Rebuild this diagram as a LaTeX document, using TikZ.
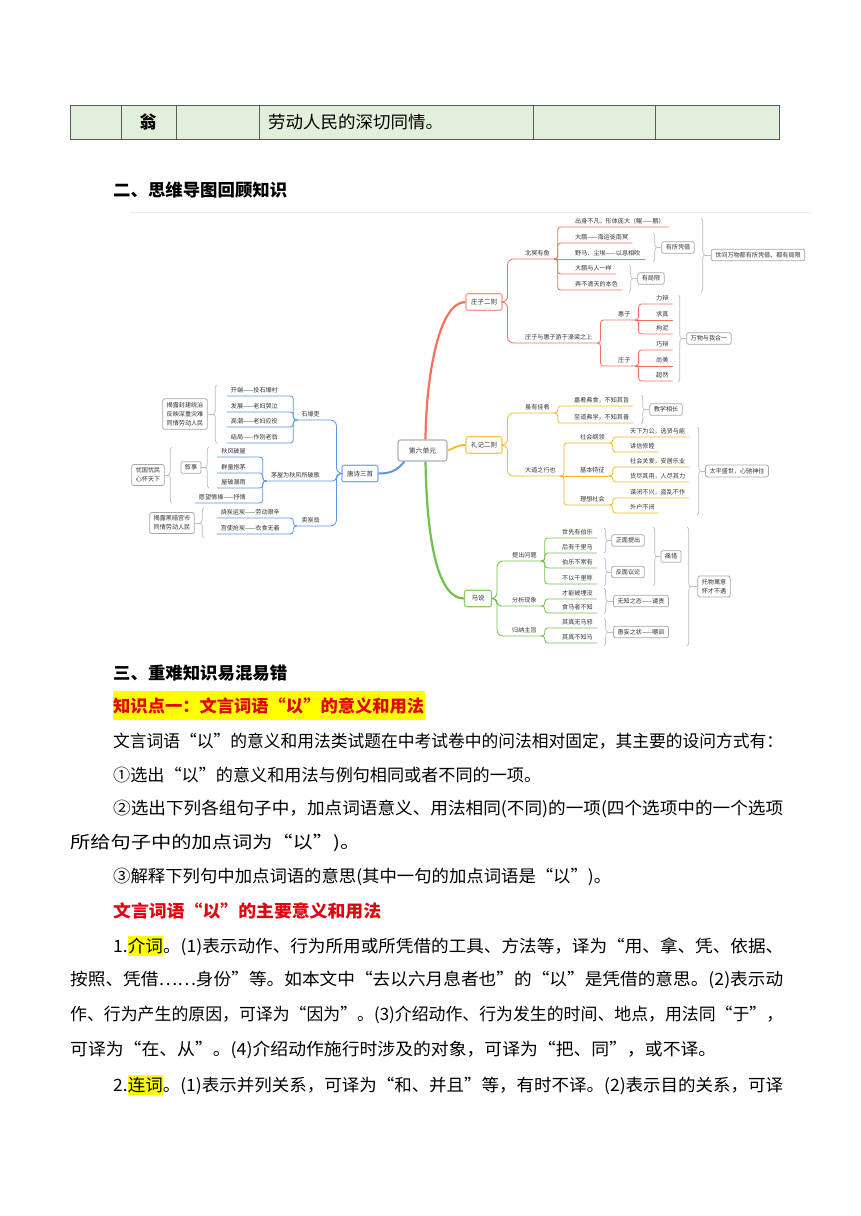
\documentclass[tikz,border=0pt]{standalone}
\usepackage{fontspec}
\setmainfont{Noto Sans CJK SC}
\usepackage{graphicx}
\usetikzlibrary{decorations.pathreplacing,calc}
\definecolor{cRed}{HTML}{F2725F}
\definecolor{cRedB}{HTML}{F49A8E}
\definecolor{cOr}{HTML}{F7B829}
\definecolor{cOrB}{HTML}{F8C654}
\definecolor{cGr}{HTML}{70C14A}
\definecolor{cGrB}{HTML}{8DCB6C}
\definecolor{cBl}{HTML}{5A98DF}
\definecolor{cBlB}{HTML}{7FAEE6}
\definecolor{rootB}{HTML}{A9B1BA}
\definecolor{boxG}{HTML}{A3A8AD}
\definecolor{brG}{HTML}{B9BDC1}
\definecolor{txt}{HTML}{333333}
\definecolor{tabF}{HTML}{E2EFDA}
\definecolor{tabL}{HTML}{5A5A5A}
\definecolor{hiY}{HTML}{FFFF00}
\definecolor{redT}{HTML}{E3000F}
\newcommand\fl[2]{\resizebox{#1pt}{\height}{#2}}
\newcommand\hl[1]{{\setlength{\fboxsep}{0pt}\colorbox{hiY}{\rule[-0.22em]{0pt}{1.15em}#1}}}
\newcommand\kidR[5]{\node[lbR] (#2) at (#3,#4) {#5};\draw[brl] (#1.south east) -- ++(4,0) |- (#2.south west) -- (#2.south east);}
\newcommand\kidRs[5]{\node[lbR] (#2) at (#3,#4) {#5};\draw[brs] (#1.south east) -- (#2.south east);}
\newcommand\kidL[5]{\node[lbL] (#2) at (#3,#4) {#5};\draw[brl] (#1.south west) -- ++(-4,0) |- (#2.south east) -- (#2.south west);}
\newcommand\topR[6]{\node[lbR] (#2) at (#3,#4) {#5};\draw[brl, rounded corners=#6] (#1.east) -- ++(5,0) |- (#2.south west) -- (#2.south east);}
\newcommand\topL[6]{\node[lbL] (#2) at (#3,#4) {#5};\draw[brl, rounded corners=#6] (#1.west) -- ++(-5,0) |- (#2.south east) -- (#2.south west);}
\newcommand\sumR[6]{\draw[brc] (#1,#2) -- (#1,#3);\node[sbox] (#4) at #5 {#6};\coordinate (#4t) at ({#1+3.5},0);\draw[brG, line width=0.7pt] (#4.west) -- (#4.west -| #4t);}
\newcommand\sumL[6]{\draw[brc] (#1,#3) -- (#1,#2);\node[sbox] (#4) at #5 {#6};\coordinate (#4t) at ({#1-3.5},0);\draw[brG, line width=0.7pt] (#4.east) -- (#4.east -| #4t);}
\tikzset{
 lb/.style={font=\fontsize{6.1}{7}\selectfont, text=txt, inner xsep=4pt, inner ysep=2pt, text height=4.9pt, text depth=0.9pt},
 lbR/.style={lb, anchor=south west},
 lbL/.style={lb, anchor=south east},
 l1box/.style={line width=1.1pt, rounded corners=2pt, fill=white, text=txt, font=\fontsize{6.5}{8}\selectfont, minimum height=16.5pt, minimum width=27pt, inner xsep=5pt},
 sbox/.style={draw=boxG, line width=0.75pt, rounded corners=2pt, fill=white, text=txt, font=\fontsize{6.1}{9.3}\selectfont, inner xsep=4pt, inner ysep=3pt, align=center},
 brc/.style={draw=brG, line width=0.7pt, decorate, decoration={brace, amplitude=3.5pt}},
 body/.style={anchor=west, inner sep=0pt, font=\fontsize{17}{20}\selectfont, text=black},
}
\begin{document}
\begin{tikzpicture}[x=1pt,y=-1pt]
\useasboundingbox (0,0) rectangle (860,1216);
\fill[white] (0,0) rectangle (860,1216);
% table row
\fill[tabF] (70,105) rectangle (779,139);
\draw[tabL, line width=0.9pt] (70,105) rectangle (779,139);
\foreach \x in {121,176,259,533,655} \draw[tabL, line width=0.8pt] (\x,105) -- (\x,139);
\node[inner sep=0pt, font=\fontsize{17}{20}\selectfont\bfseries] (weng) at (148,122) {翁};
\node[body] (tcell) at (268,122) {\fl{175}{劳动人民的深切同情。}};
% heading 2
\node[body, font=\fontsize{17}{20}\selectfont\bfseries] (h2) at (113,190) {\fl{174}{二、思维导图回顾知识}};
\draw[black!8, line width=0.8pt] (130,212) -- (812,212);

% ---------- mind map ----------
\node[draw=rootB, line width=1.1pt, rounded corners=2.5pt, fill=white, text=txt, font=\fontsize{6.8}{8}\selectfont, minimum width=49pt, minimum height=21pt, inner sep=0pt] (root) at (422.5,450.5) {第六单元};
\node[l1box, draw=cRedB] (zz) at (484,302) {庄子二则};
\node[l1box, draw=cOrB] (lj) at (484,445) {礼记二则};
\node[l1box, draw=cGrB] (ms) at (478,598.5) {马说};
\node[l1box, draw=cBlB] (ts) at (360,473.5) {唐诗三首};
\draw[cRed, line width=2.2pt] ([xshift=3pt]root.north) .. controls (426,380) and (438,302) .. (zz.west);
\draw[cOr, line width=1.8pt] (root.east) .. controls (455,448) and (457,445) .. (lj.west);
\draw[cGr, line width=2.2pt] ([xshift=3pt]root.south) .. controls (427,550) and (440,598.5) .. (ms.west);
\draw[cBl, line width=2pt] ([xshift=-18pt]root.south) .. controls (396,472) and (388,473.5) .. (ts.east);

% Zhuangzi
\begin{scope}[brl/.style={draw=cRed,line width=0.8pt,rounded corners=3pt}, brs/.style={draw=cRed,line width=0.8pt}]
\topR{zz}{bm}{521}{259}{北冥有鱼}{6pt}
\topR{zz}{hz}{521}{343}{庄子与惠子游于濠梁之上}{6pt}
\kidR{bm}{bma}{571}{227}{出身不凡，形体庞大（鲲——鹏）}
\kidR{bm}{bmb}{571}{243}{大鹏——海运徙南冥}
\kidRs{bm}{bmc}{571}{259}{野马、尘埃——以息相吹}
\kidR{bm}{bmd}{571}{274}{大鹏与人一样}
\kidR{bm}{bme}{571}{290}{弄不清天的本色}
\kidR{hz}{hzA}{614}{320}{惠子}
\kidR{hz}{hzB}{614}{366}{庄子}
\kidR{hzA}{aa}{652}{304}{力辩}
\kidRs{hzA}{ab}{652}{320}{求真}
\kidR{hzA}{ac}{652}{334}{拘泥}
\kidR{hzB}{ba}{652}{350}{巧辩}
\kidRs{hzB}{bb}{652}{366}{尚美}
\kidR{hzB}{bc}{652}{381}{超然}
\end{scope}
\sumR{653}{233}{262}{sa}{(678,247.5)}{有所凭借}
\sumR{629}{265}{292}{sb}{(651,278.5)}{有局限}
\sumR{701}{218}{292}{sc}{(758,255)}{世间万物都有所凭借、都有局限}
\sumR{678}{295}{382}{sd}{(709,338.5)}{万物与我合一}

% Liji
\begin{scope}[brl/.style={draw=cOr,line width=0.8pt,rounded corners=3pt}, brs/.style={draw=cOr,line width=0.8pt}]
\topR{lj}{sy}{521}{413}{虽有佳肴}{6pt}
\topR{lj}{dd}{521}{476}{大道之行也}{6pt}
\kidR{sy}{sya}{570}{406}{嘉肴弗食，不知其旨}
\kidR{sy}{syb}{570}{423}{至道弗学，不知其善}
\kidR{dd}{gl}{576}{443}{社会纲领}
\kidRs{dd}{tz}{576}{476}{基本特征}
\kidR{dd}{lx}{576}{505}{理想社会}
\kidR{gl}{gla}{626}{437}{天下为公，选贤与能}
\kidR{gl}{glb}{626}{452}{讲信修睦}
\kidR{tz}{tza}{626}{467}{社会关爱，安居乐业}
\kidR{tz}{tzb}{626}{482}{货尽其用，人尽其力}
\kidR{lx}{lxa}{626}{498}{谋闭不兴，盗乱不作}
\kidR{lx}{lxb}{626}{513}{外户不闭}
\end{scope}
\sumR{641}{395}{424}{se}{(666,409.5)}{教学相长}
\sumR{697}{427}{515}{sf}{(737,471)}{太平盛世，心驰神往}

% Mashuo
\begin{scope}[brl/.style={draw=cGr,line width=0.8pt,rounded corners=3pt}, brs/.style={draw=cGr,line width=0.8pt}]
\topR{ms}{tq}{508}{561}{提出问题}{6pt}
\topR{ms}{fx}{508}{606}{分析现象}{4pt}
\topR{ms}{gn}{508}{636}{归纳主旨}{6pt}
\kidR{tq}{tqa}{558}{538}{世先有伯乐}
\kidR{tq}{tqb}{558}{553}{后有千里马}
\kidR{tq}{tqc}{558}{568}{伯乐不常有}
\kidR{tq}{tqd}{558}{584}{不以千里称}
\kidR{fx}{fxa}{558}{599}{才能被埋没}
\kidR{fx}{fxb}{558}{613}{食马者不知}
\kidR{gn}{gna}{558}{628}{其真无马邪}
\kidR{gn}{gnb}{558}{643}{其真不知马}
\end{scope}
\sumR{604}{528}{553}{sg}{(628,540.5)}{正面提出}
\sumR{604}{558}{586}{sh}{(628,572)}{反面议论}
\sumR{604}{588}{614}{si}{(641,601)}{无知之态——谴责}
\sumR{604}{618}{646}{sj}{(641,632)}{愚妄之状——嘲讽}
\sumR{653}{527}{586}{sk}{(671,556.5)}{痛惜}
\sumR{687}{527}{646}{sl}{(714,586.5)}{托物寓意\\怀才不遇}

% Tang poems
\begin{scope}[brl/.style={draw=cBl,line width=0.8pt,rounded corners=3pt}, brs/.style={draw=cBl,line width=0.8pt}]
\topL{ts}{sh}{324}{420}{石壕吏}{6pt}
\topL{ts}{mw}{324}{481}{茅屋为秋风所破歌}{4pt}
\topL{ts}{mt}{324}{526}{卖炭翁}{6pt}
\kidL{sh}{sha}{282}{396}{开端——投石壕村}
\kidL{sh}{shb}{282}{412}{发展——老妇哭泣}
\kidL{sh}{shc}{282}{427}{高潮——老妇应役}
\kidL{sh}{shd}{282}{443}{结局——作别老翁}
\kidL{mw}{mwa}{250}{457}{秋风破屋}
\kidL{mw}{mwb}{250}{473}{群童抱茅}
\kidL{mw}{mwc}{250}{488}{屋破漏雨}
\kidL{mw}{mwd}{250}{503}{愿望情操——抒情}
\kidL{mt}{mta}{284}{518}{烧炭运炭——劳动艰辛}
\kidL{mt}{mtb}{284}{534}{宫使抢炭——衣食无着}
\end{scope}
\sumL{217}{385}{443}{sm}{(185,414)}{揭露封建统治\\反映深重灾难\\同情劳动人民}
\sumL{209}{447}{488}{sn}{(191,467.5)}{叙事}
\sumL{172}{447}{503}{so}{(148,475)}{忧国忧民\\心怀天下}
\sumL{204}{508}{538}{sp}{(172,523)}{揭露黑暗宫市\\同情劳动人民}

% ---------- body text ----------
\node[body, font=\fontsize{17}{20}\selectfont\bfseries] (h3) at (113,673) {\fl{174}{三、重难知识易混易错}};
\fill[hiY] (113,691) rectangle (425,720);
\node[body, text=redT, font=\fontsize{17}{20}\selectfont\bfseries] (k1) at (113,706) {\fl{311}{知识点一：文言词语“以”的意义和用法}};
\node[body] (l1) at (113,741) {\fl{670}{文言词语“以”的意义和用法类试题在中考试卷中的问法相对固定，其主要的设问方式有：}};
\node[body] (l2) at (113,775) {\fl{428}{①选出“以”的意义和用法与例句相同或者不同的一项。}};
\node[body] (l3) at (113,809) {\fl{670}{②选出下列各组句子中，加点词语意义、用法相同(不同)的一项(四个选项中的一个选项}};
\node[body] (l4) at (70,843) {\fl{290}{所给句子中的加点词为“以”)。}};
\node[body] (l5) at (113,877) {\fl{498}{③解释下列句中加点词语的意思(其中一句的加点词语是“以”)。}};
\node[body, text=redT, font=\fontsize{17}{20}\selectfont\bfseries] (l6) at (113,911) {\fl{268}{文言词语“以”的主要意义和用法}};
\node[body] (l7) at (113,946) {\fl{670}{1.\hl{介词}。(1)表示动作、行为所用或所凭借的工具、方法等，译为“用、拿、凭、依据、}};
\node[body] (l8) at (70,980) {\fl{713}{按照、凭借……身份”等。如本文中“去以六月息者也”的“以”是凭借的意思。(2)表示动}};
\node[body] (l9) at (70,1015) {\fl{713}{作、行为产生的原因，可译为“因为”。(3)介绍动作、行为发生的时间、地点，用法同“于”，}};
\node[body] (l10) at (70,1050) {\fl{646}{可译为“在、从”。(4)介绍动作施行时涉及的对象，可译为“把、同”，或不译。}};
\node[body] (l11) at (113,1085) {\fl{670}{2.\hl{连词}。(1)表示并列关系，可译为“和、并且”等，有时不译。(2)表示目的关系，可译}};
\end{tikzpicture}
\end{document}
